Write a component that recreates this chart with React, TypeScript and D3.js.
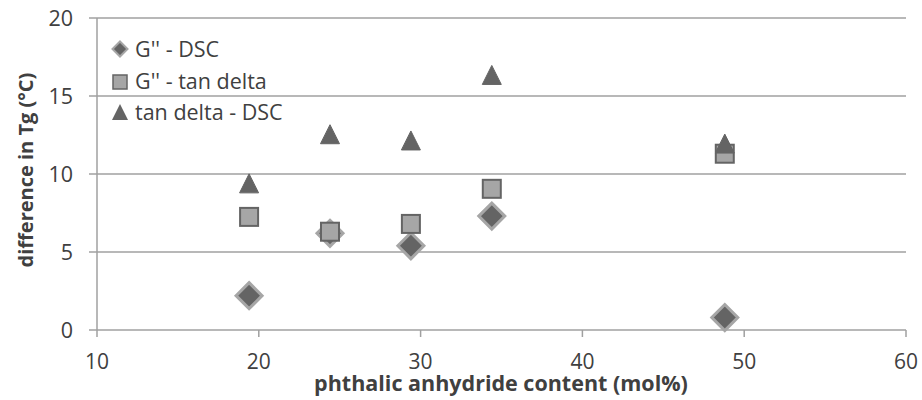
import React from "react";
import * as d3 from "d3";

const xValues = [19.4, 24.4, 29.4, 34.4, 48.8];
const gDsc = [2.2, 6.2, 5.4, 7.3, 0.8];
const gTan = [7.25, 6.3, 6.8, 9.05, 11.3];
const tanDsc = [9.4, 12.55, 12.15, 16.35, 11.95];
const xTicks = [10, 20, 30, 40, 50, 60];
const yTicks = [0, 5, 10, 15, 20];
const legendLabels = ["G'' - DSC", "G'' - tan delta", "tan delta - DSC"];

const W = 922, H = 400;
const FONT = "'Open Sans', Lato, sans-serif";
const DARK = "#646464";
const LIGHT = "#a6a6a6";
const GRID = "#a0a0a0";
const TXT = "#404040";

export default function App() {
  const x = d3.scaleLinear().domain([10, 60]).range([97, 906]);
  const y = d3.scaleLinear().domain([0, 20]).range([330, 18]);

  const diamond = (cx: number, cy: number, r: number) =>
    `M${cx},${cy - r}L${cx + r},${cy}L${cx},${cy + r}L${cx - r},${cy}Z`;
  const tri = (cx: number, cy: number, s: number) =>
    `M${cx},${cy - s / 2}L${cx + s / 2},${cy + s / 2}L${cx - s / 2},${cy + s / 2}Z`;

  return (
    <svg width={W} height={H} style={{ position: "absolute", left: 0, top: 0, background: "#fff" }}>
      {yTicks.map((t) => (
        <g key={"y" + t}>
          <line x1={89} x2={906} y1={y(t)} y2={y(t)} stroke={GRID} strokeWidth={1.5} />
          <text x={73} y={y(t)} dy="0.36em" textAnchor="end" fontFamily={FONT} fontSize={21.5} fill={TXT}>
            {t}
          </text>
        </g>
      ))}
      <line x1={x(10)} x2={x(10)} y1={y(20)} y2={y(0)} stroke={GRID} strokeWidth={1.5} />
      {xTicks.map((t) => (
        <g key={"x" + t}>
          <line x1={x(t)} x2={x(t)} y1={y(0)} y2={y(0) + 7} stroke={GRID} strokeWidth={1.5} />
          <text x={x(t)} y={369} textAnchor="middle" fontFamily={FONT} fontSize={21} fill={TXT}>
            {t}
          </text>
        </g>
      ))}
      <text x={501} y={391} textAnchor="middle" fontFamily={FONT} fontSize={21.5} fontWeight="bold" fill={TXT}>
        phthalic anhydride content (mol%)
      </text>
      <text
        transform={`translate(33,170) rotate(-90)`}
        textAnchor="middle"
        fontFamily={FONT}
        fontSize={20}
        fontWeight="bold"
        fill={TXT}
      >
        difference in Tg (°C)
      </text>

      {xValues.map((v, i) => (
        <path key={"d" + i} d={diamond(x(v), y(gDsc[i]), 13)} fill={DARK} stroke={LIGHT} strokeWidth={3} />
      ))}
      {xValues.map((v, i) => (
        <rect
          key={"s" + i}
          x={x(v) - 9}
          y={y(gTan[i]) - 9}
          width={18}
          height={18}
          fill={LIGHT}
          stroke={DARK}
          strokeWidth={2}
        />
      ))}
      {xValues.map((v, i) => (
        <path key={"t" + i} d={tri(x(v), y(tanDsc[i]), 19)} fill={DARK} stroke={DARK} strokeWidth={1} />
      ))}

      <g fontFamily={FONT} fontSize={21.5} fill={TXT}>
        <path d={diamond(120, 49, 7.5)} fill={DARK} stroke={LIGHT} strokeWidth={2} />
        <text x={135} y={49} dy="0.36em">{legendLabels[0]}</text>
        <rect x={113} y={75} width={14} height={14} fill={LIGHT} stroke={DARK} strokeWidth={1.5} />
        <text x={135} y={81} dy="0.36em">{legendLabels[1]}</text>
        <path d={tri(120, 112, 16)} fill={DARK} />
        <text x={135} y={112} dy="0.36em">{legendLabels[2]}</text>
      </g>
    </svg>
  );
}
